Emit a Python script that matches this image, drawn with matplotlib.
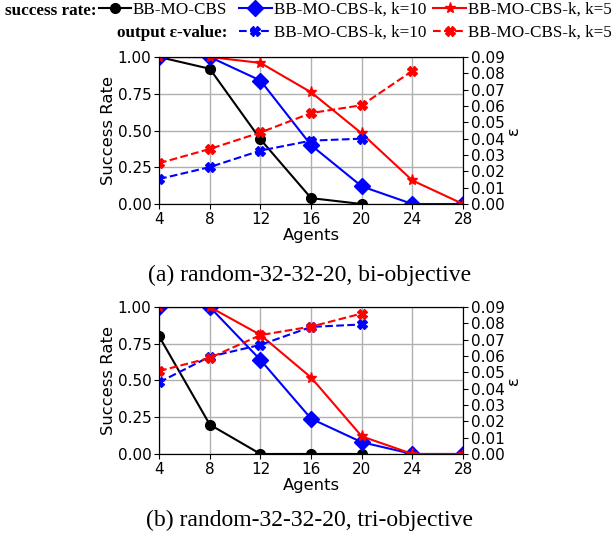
import matplotlib
matplotlib.use("Agg")
import matplotlib.pyplot as plt

agents = [4, 8, 12, 16, 20, 24, 28]

# (a) bi-objective
bi_cbs = [1.0, 0.92, 0.44, 0.04, 0.0]
bi_k10 = [1.0, 1.0, 0.84, 0.40, 0.12, 0.0, 0.0]
bi_k5 = [1.0, 1.0, 0.96, 0.76, 0.48, 0.16, 0.0]
bi_eps_k10 = [0.0153, 0.0226, 0.0327, 0.0388, 0.0400]
bi_eps_k5 = [0.0250, 0.0337, 0.0438, 0.0557, 0.0605, 0.0815]

# (b) tri-objective
tri_cbs = [0.80, 0.20, 0.0, 0.0, 0.0]
tri_k10 = [1.0, 1.0, 0.64, 0.24, 0.08, 0.0, 0.0]
tri_k5 = [1.0, 1.0, 0.81, 0.52, 0.12, 0.0, 0.0]
tri_eps_k10 = [0.0439, 0.0596, 0.0668, 0.0778, 0.0793]
tri_eps_k5 = [0.0508, 0.0588, 0.0728, 0.0780, 0.0860]

panels = [
    (bi_cbs, bi_k10, bi_k5, bi_eps_k10, bi_eps_k5, "(a) random-32-32-20, bi-objective"),
    (tri_cbs, tri_k10, tri_k5, tri_eps_k10, tri_eps_k5, "(b) random-32-32-20, tri-objective"),
]

serif = "Liberation Serif"
fig = plt.figure(figsize=(6.12, 5.42), dpi=100)

axes_pos = [[0.260, 0.6236, 0.4967, 0.2712], [0.260, 0.1624, 0.4967, 0.2712]]
caption_y = [0.4926, 0.039]

handles = None
for i, (cbs, k10, k5, e10, e5, cap) in enumerate(panels):
    ax = fig.add_axes(axes_pos[i])
    ax2 = ax.twinx()
    l1, = ax.plot(agents[:len(cbs)], cbs, color="black", marker="o", lw=1.5, ms=7)
    l2, = ax.plot(agents[:len(k10)], k10, color="blue", marker="D", lw=1.5, ms=8)
    l3, = ax.plot(agents[:len(k5)], k5, color="red", marker="*", lw=1.5, ms=8)
    l4, = ax2.plot(agents[:len(e10)], e10, color="blue", marker="X", ls="--", lw=1.5, ms=7)
    l5, = ax2.plot(agents[:len(e5)], e5, color="red", marker="X", ls="--", lw=1.5, ms=7)
    ax.set_xlim(4, 28)
    ax.set_ylim(0, 1.0)
    ax2.set_ylim(0, 0.09)
    ax.set_xticks(agents)
    ax.set_yticks([0, 0.25, 0.5, 0.75, 1.0])
    ax2.set_yticks([i * 0.01 for i in range(10)])
    ax.tick_params(labelsize=11, pad=2)
    ax2.tick_params(labelsize=11, pad=2)
    ax.grid(True, color="#b0b0b0", lw=1)
    ax.set_ylabel("Success Rate", fontsize=11.8, labelpad=1)
    ax2.set_ylabel("ε", fontsize=11.8, labelpad=1)
    ax.set_xlabel("Agents", fontsize=11.8, labelpad=1)
    fig.text(0.506, caption_y[i], cap, ha="center", va="center", family=serif, fontsize=17)
    if handles is None:
        handles = (l1, l2, l3, l4, l5)

l1, l2, l3, l4, l5 = handles
lprop = {"family": serif, "size": 12.3}
leg_a = fig.legend([l1], ["BB-MO-CBS"], loc="upper left", bbox_to_anchor=(0.1585, 1.0),
                   frameon=False, prop=lprop, handlelength=1.9, handletextpad=0.1,
                   borderpad=0.0, borderaxespad=0.1)
leg_b = fig.legend([l2, l4, l3, l5],
                   ["BB-MO-CBS-k, k=10", "BB-MO-CBS-k, k=10",
                    "BB-MO-CBS-k, k=5", "BB-MO-CBS-k, k=5"],
                   loc="upper right", bbox_to_anchor=(1.003, 1.0), ncol=2, frameon=False,
                   prop=lprop, handlelength=1.9, handletextpad=0.15, labelspacing=0.42,
                   columnspacing=0.4, borderpad=0.0, borderaxespad=0.1)
fig.text(0.158, 0.980, "success rate:", ha="right", va="center", family=serif,
         fontsize=12.3, fontweight="bold")
fig.text(0.371, 0.940, "output ε-value:", ha="right", va="center", family=serif,
         fontsize=12.3, fontweight="bold")

fig.savefig("out.png", dpi=100)
